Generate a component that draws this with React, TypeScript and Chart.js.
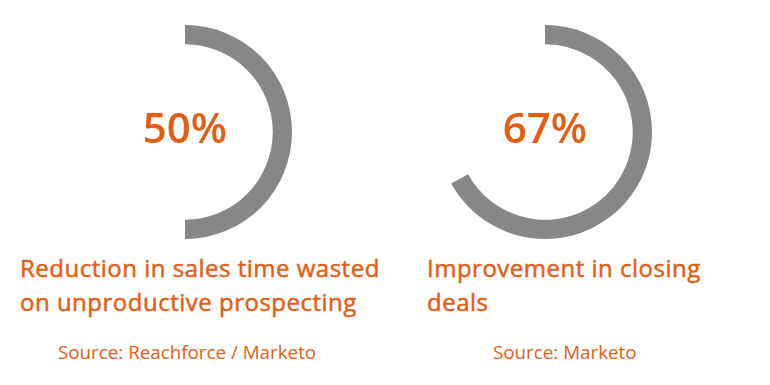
import React, { useEffect, useRef } from "react";
import { Chart, registerables } from "chart.js";

Chart.register(...registerables);

const percentValues = [50, 67];
const percentLabels = ["50%", "67%"];
const titleLines = [
  ["Reduction in sales time wasted", "on unproductive prospecting"],
  ["Improvement in closing", "deals"],
];
const sources = ["Source: Reachforce / Marketo", "Source: Marketo"];

const GRAY = "#878787";
const ORANGE = "#e35e12";
const FONT = "'Open Sans', 'Liberation Sans', Arial, sans-serif";

const centersX = [185, 545];
const titleLeft = [20, 427];
const sourceLeft = [58, 493];

function Ring({ value, cx }: { value: number; cx: number }) {
  const ref = useRef<HTMLCanvasElement>(null);
  useEffect(() => {
    if (!ref.current) return;
    const chart = new Chart(ref.current, {
      type: "doughnut",
      data: {
        labels: ["value", "rest"],
        datasets: [
          {
            data: [value, 100 - value],
            backgroundColor: [GRAY, "rgba(0,0,0,0)"],
            borderWidth: 0,
            hoverOffset: 0,
          },
        ],
      },
      options: {
        responsive: false,
        animation: false,
        cutout: "82%",
        layout: { padding: 0 },
        plugins: { legend: { display: false }, tooltip: { enabled: false } },
        events: [],
      },
    });
    return () => chart.destroy();
  }, [value]);
  const size = 214;
  return (
    <canvas
      ref={ref}
      width={size}
      height={size}
      style={{ position: "absolute", left: cx - size / 2, top: 25, width: size, height: size }}
    />
  );
}

export default function App() {
  return (
    <div
      style={{
        position: "absolute",
        left: 0,
        top: 0,
        width: 770,
        height: 385,
        background: "#ffffff",
        overflow: "hidden",
        fontFamily: FONT,
      }}
    >
      {percentValues.map((v, i) => (
        <React.Fragment key={i}>
          <Ring value={v} cx={centersX[i]} />
          <div
            style={{
              position: "absolute",
              left: centersX[i] - 100,
              width: 200,
              top: 106,
              textAlign: "center",
              fontSize: 42,
              lineHeight: "42px",
              fontWeight: 600,
              color: ORANGE,
            }}
          >
            {percentLabels[i]}
          </div>
          <div
            style={{
              position: "absolute",
              left: titleLeft[i],
              top: 251,
              fontSize: 24,
              lineHeight: "34px",
              fontWeight: 400,
              letterSpacing: "0.5px",
              WebkitTextStroke: "0.5px " + ORANGE,
              color: ORANGE,
              whiteSpace: "nowrap",
            }}
          >
            {titleLines[i].map((l, j) => (
              <div key={j}>{l}</div>
            ))}
          </div>
          <div
            style={{
              position: "absolute",
              left: sourceLeft[i],
              top: 343,
              fontSize: 18.8,
              lineHeight: "18.8px",
              fontWeight: 400,
              color: ORANGE,
              whiteSpace: "nowrap",
            }}
          >
            {sources[i]}
          </div>
        </React.Fragment>
      ))}
    </div>
  );
}
